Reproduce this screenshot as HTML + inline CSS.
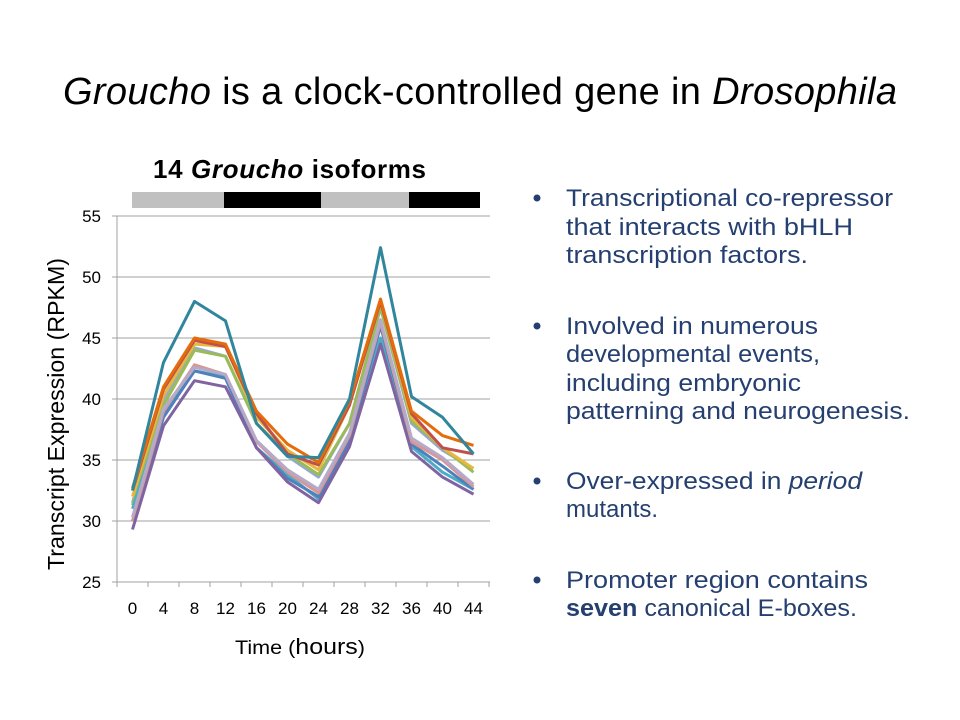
<!DOCTYPE html>
<html><head><meta charset="utf-8"><style>
html,body{margin:0;padding:0;background:#fff;}
body{width:960px;height:720px;overflow:hidden;}
svg{display:block;font-family:"Liberation Sans",sans-serif;}
</style></head><body>
<svg id="s" width="960" height="720" viewBox="0 0 960 720">
<text x="63" y="104" font-size="38" fill="#000" textLength="834" lengthAdjust="spacing"><tspan font-style="italic">Groucho</tspan> is a clock-controlled gene in <tspan font-style="italic">Drosophila</tspan></text>
<text x="153" y="178" font-size="26" font-weight="bold" fill="#000" textLength="273" lengthAdjust="spacing">14 <tspan font-style="italic">Groucho</tspan> isoforms</text>
<rect x="132" y="192" width="92" height="16" fill="#c0c0c0"/>
<rect x="224" y="192" width="97" height="16" fill="#000"/>
<rect x="321" y="192" width="88" height="16" fill="#c0c0c0"/>
<rect x="409" y="192" width="71" height="16" fill="#000"/>
<g id="grid" stroke="#a0a0a0" stroke-width="1"></g>
<g id="lines" fill="none" stroke-width="3" stroke-linejoin="round"></g>
<g font-size="17" fill="#000" id="lbl"></g>
<text transform="translate(64,414) rotate(-90)" text-anchor="middle" font-size="23" textLength="312" lengthAdjust="spacingAndGlyphs">Transcript Expression (RPKM)</text>
<text x="235" y="654" font-size="19" textLength="130" lengthAdjust="spacingAndGlyphs">Time (<tspan font-size="22">hours</tspan>)</text>
<g font-size="24" fill="#243f70">
<circle cx="537" cy="198" r="3.5"/><circle cx="537" cy="326" r="3.5"/><circle cx="537" cy="481" r="3.5"/><circle cx="537" cy="580" r="3.5"/>
<text x="566" y="206" textLength="327" lengthAdjust="spacingAndGlyphs">Transcriptional co-repressor</text>
<text x="566" y="235" textLength="287" lengthAdjust="spacingAndGlyphs">that interacts with bHLH</text>
<text x="566" y="263" textLength="242" lengthAdjust="spacingAndGlyphs">transcription factors.</text>
<text x="566" y="334" textLength="252" lengthAdjust="spacingAndGlyphs">Involved in numerous</text>
<text x="566" y="362" textLength="254" lengthAdjust="spacingAndGlyphs">developmental events,</text>
<text x="566" y="391" textLength="235" lengthAdjust="spacingAndGlyphs">including embryonic</text>
<text x="566" y="419" textLength="344" lengthAdjust="spacingAndGlyphs">patterning and neurogenesis.</text>
<text x="566" y="489" textLength="296" lengthAdjust="spacingAndGlyphs">Over-expressed in <tspan font-style="italic">period</tspan></text>
<text x="566" y="517">mutants.</text>
<text x="566" y="588" textLength="302" lengthAdjust="spacingAndGlyphs">Promoter region contains</text>
<text x="566" y="616" textLength="291" lengthAdjust="spacingAndGlyphs"><tspan font-weight="bold">seven</tspan> canonical E-boxes.</text>
</g>
</svg>
<script>
var NS="http://www.w3.org/2000/svg";
function el(p,t,a,txt){var e=document.createElementNS(NS,t);for(var k in a)e.setAttribute(k,a[k]);if(txt!=null)e.textContent=txt;document.getElementById(p).appendChild(e);}
function Y(v){return 582-(v-25)*12.2;}
for(var v=25;v<=55;v+=5){var y=Y(v);if(v>25)el("grid","line",{x1:117,x2:490,y1:y,y2:y});el("grid","line",{x1:112,x2:117,y1:y,y2:y});el("lbl","text",{x:101,y:y+6,"text-anchor":"end"},v);}
el("grid","line",{x1:117,x2:117,y1:Y(55),y2:582});
el("grid","line",{x1:117,x2:490,y1:582,y2:582});
for(var i=0;i<=12;i++){var x=117+31*i;el("grid","line",{x1:x,x2:x,y1:582,y2:587});}
for(var i=0;i<12;i++){el("lbl","text",{x:132.5+31*i,y:614,"text-anchor":"middle"},i*4);}
var S=[
["#93a9cf",[31.5,40,44.2,43.5,38,35.3,33.6,38,47.5,38,35.8,34.3]],
["#9bbb59",[31.3,39.5,44,43.5,38,35.5,33.8,38,47.5,38.2,36,34]],
["#e6b93e",[32,40.3,44.5,44.3,38.5,35.8,34.2,39.5,48,38.5,36,34.3]],
["#c0504d",[32.5,40.8,44.8,44.3,38.8,35.5,34.6,39.5,48,38.8,36,35.5]],
["#e46c0a",[32.7,41,45,44.5,39,36.3,34.8,39.8,48.2,39,37,36.2]],
["#4bacc6",[31,38.8,42.3,41.8,36,33.8,31.8,36.5,45,36.1,34,32.6]],
["#4f81bd",[30,38.5,42.3,41.7,36,33.5,32,36.5,46,36.3,34.5,32.6]],
["#d99694",[30,39,42.8,42,36.5,34,32.3,37,46.3,36.5,35,32.8]],
["#b7a9c8",[30.3,39.2,42.6,42,36.6,34.2,32.6,37.2,46.5,36.8,35.2,33]],
["#8064a2",[29.3,37.8,41.5,41,36,33.2,31.5,36.1,44.5,35.7,33.6,32.2]],
["#31859c",[32.5,43,48,46.4,38,35.3,35.2,40,52.4,40.2,38.5,35.5]]
];
S.forEach(function(s){el("lines","polyline",{stroke:s[0],points:s[1].map(function(v,i){return (132.5+31*i)+","+Y(v).toFixed(1);}).join(" ")});});
</script>
</body></html>
